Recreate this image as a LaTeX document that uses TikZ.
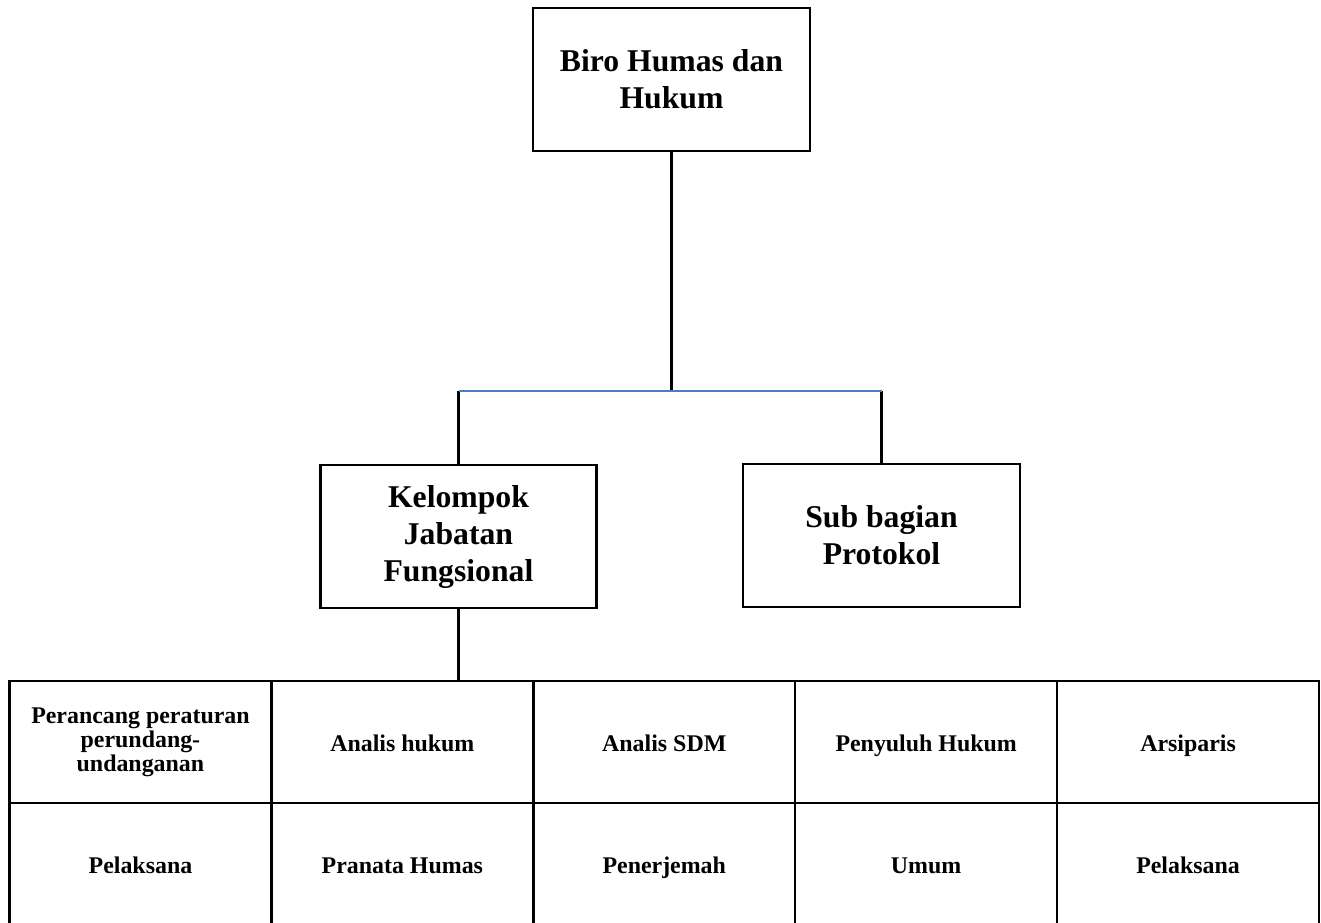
\documentclass[tikz,border=0pt]{standalone}
\usepackage{fontspec}
\setmainfont{Liberation Serif}
\definecolor{linkblue}{RGB}{74,126,187}
\begin{document}
\begin{tikzpicture}[x=1pt,y=-1pt,
  orgbox/.style={draw=black,line width=2.4pt,fill=white,align=center,inner sep=0pt,
    font=\fontsize{31.7}{37}\selectfont\bfseries},
  cell/.style={draw=black,line width=2.4pt,align=center,inner sep=0pt,
    minimum width=261.9pt,minimum height=122pt,
    font=\fontsize{23.9}{23.8}\selectfont\bfseries},
  onecell/.style={cell,text height=22pt,text depth=3pt},
  conn/.style={draw=black,line width=2.4pt},
  hconn/.style={draw=linkblue,line width=1.6pt}]
\useasboundingbox (0,0) rectangle (1321,922);

\node[orgbox,minimum width=277pt,minimum height=143pt] (biro) at (671.5,79.5) {Biro Humas dan\\Hukum};
\node[orgbox,minimum width=276pt,minimum height=143pt] (kjf) at (458.5,536.5) {Kelompok\\Jabatan\\Fungsional};
\node[orgbox,minimum width=277pt,minimum height=143pt] (sbp) at (881.5,535.5) {Sub bagian\\Protokol};

% table
\node[cell] (a1) at (140.45,742) {Perancang peraturan\\perundang-\\undanganan};
\node[onecell] (b1) at (402.35,742) {Analis hukum};
\node[onecell] (c1) at (664.25,742) {Analis SDM};
\node[onecell] (d1) at (926.15,742) {Penyuluh Hukum};
\node[onecell] (e1) at (1188.05,742) {Arsiparis};
\node[onecell] (a2) at (140.45,864) {Pelaksana};
\node[onecell] (b2) at (402.35,864) {Pranata Humas};
\node[onecell] (c2) at (664.25,864) {Penerjemah};
\node[onecell] (d2) at (926.15,864) {Umum};
\node[onecell] (e2) at (1188.05,864) {Pelaksana};

% connectors
\coordinate (hy) at (0,391);
\coordinate (hl) at (kjf.north |- hy);
\coordinate (hr) at (sbp.north |- hy);
\coordinate (hm) at (biro.south |- hy);
\draw[conn] (biro.south) -- (hm);
\draw[conn] (hl) -- (kjf.north);
\draw[conn] (hr) -- (sbp.north);
\draw[hconn] (hl) -- (hr);
\draw[conn] (kjf.south) -- (kjf.south |- a1.north);
\end{tikzpicture}
\end{document}
